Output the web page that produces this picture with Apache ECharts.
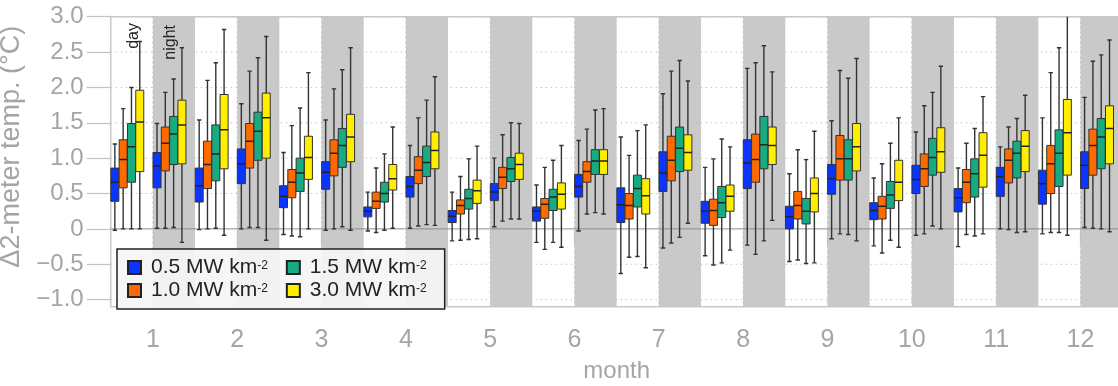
<!DOCTYPE html>
<html><head><meta charset="utf-8">
<script src="https://cdn.jsdelivr.net/npm/echarts@6/dist/echarts.min.js"></script>
<style>html,body{margin:0;padding:0;background:#fff}#c{width:1118px;height:386px}</style>
</head><body><div id="c"></div>
<script>
// ---- data ----
const months = ['1','2','3','4','5','6','7','8','9','10','11','12'];
const periods = ['day','night'];
const yTicks = [-1.0,-0.5,0,0.5,1.0,1.5,2.0,2.5,3.0];
const densities = ['0.5','1.0','1.5','3.0'];
const colors = ['#0a35ff','#ff6a00','#16ab80','#ffee00'];
// each entry: [lower whisker, Q1, median, Q3, upper whisker]; order m1 day, m1 night, m2 day, ...
const d05 = [
 [-0.02,0.39,0.66,0.86,1.20],[0.01,0.58,0.89,1.08,1.49],
 [-0.01,0.38,0.61,0.86,1.54],[0.00,0.64,0.92,1.13,1.77],
 [-0.08,0.30,0.46,0.61,1.08],[-0.02,0.56,0.80,0.95,1.54],
 [-0.03,0.17,0.25,0.31,0.52],[0.01,0.45,0.60,0.74,1.18],
 [-0.17,0.09,0.18,0.26,0.52],[0.03,0.40,0.52,0.64,1.00],
 [-0.19,0.11,0.25,0.31,0.62],[-0.03,0.45,0.60,0.77,1.25],
 [-0.63,0.09,0.34,0.58,1.30],[-0.27,0.53,0.79,1.09,1.91],
 [-0.38,0.08,0.25,0.39,0.87],[-0.23,0.57,0.93,1.26,2.27],
 [-0.46,0.00,0.17,0.32,0.78],[-0.14,0.49,0.71,0.91,1.53],
 [-0.24,0.13,0.26,0.37,0.72],[-0.09,0.50,0.70,0.90,1.37],
 [-0.25,0.24,0.44,0.57,0.86],[0.00,0.46,0.74,0.87,1.16],
 [-0.07,0.35,0.64,0.83,1.57],[0.02,0.57,0.90,1.09,1.86]
];
const d10 = [
 [0.00,0.58,0.98,1.26,1.70],[0.01,0.82,1.21,1.44,1.93],
 [0.00,0.57,0.91,1.24,2.10],[0.02,0.86,1.24,1.49,2.23],
 [-0.10,0.44,0.66,0.84,1.46],[0.00,0.75,1.07,1.26,1.98],
 [-0.05,0.29,0.39,0.52,0.86],[0.04,0.64,0.83,1.02,1.57],
 [-0.16,0.21,0.33,0.41,0.74],[0.11,0.57,0.73,0.87,1.33],
 [-0.29,0.15,0.35,0.43,0.87],[0.21,0.66,0.81,0.95,1.41],
 [-0.40,0.14,0.33,0.50,1.04],[-0.20,0.68,0.97,1.31,2.23],
 [-0.51,0.05,0.26,0.42,0.99],[-0.36,0.66,0.98,1.34,2.35],
 [-0.44,0.14,0.33,0.53,1.12],[-0.07,0.69,0.99,1.32,2.24],
 [-0.34,0.14,0.32,0.46,0.92],[-0.07,0.60,0.85,1.06,1.74],
 [-0.08,0.37,0.66,0.84,1.21],[-0.01,0.65,0.97,1.13,1.44],
 [-0.05,0.50,0.92,1.18,2.21],[0.01,0.76,1.18,1.41,2.37]
];
const d15 = [
 [0.00,0.66,1.16,1.49,2.00],[0.02,0.91,1.34,1.59,2.12],
 [0.01,0.68,1.06,1.47,2.35],[0.02,0.97,1.38,1.65,2.42],
 [-0.11,0.53,0.79,1.00,1.71],[0.03,0.87,1.18,1.42,2.25],
 [-0.02,0.38,0.50,0.66,1.06],[0.06,0.74,0.94,1.17,1.82],
 [-0.15,0.28,0.43,0.56,0.99],[0.14,0.67,0.85,1.01,1.50],
 [-0.19,0.26,0.45,0.56,0.97],[0.23,0.77,0.96,1.12,1.68],
 [-0.39,0.31,0.57,0.76,1.39],[-0.12,0.81,1.14,1.44,2.38],
 [-0.48,0.16,0.37,0.60,1.27],[-0.17,0.85,1.19,1.59,2.59],
 [-0.49,0.07,0.25,0.43,0.98],[-0.08,0.69,0.99,1.26,2.13],
 [-0.16,0.29,0.48,0.67,1.21],[0.04,0.76,1.01,1.28,1.93],
 [-0.10,0.45,0.78,0.99,1.42],[-0.05,0.72,1.07,1.24,1.56],
 [-0.05,0.60,1.07,1.40,2.56],[0.00,0.85,1.30,1.56,2.46]
];
const d30 = [
 [0.00,0.81,1.51,1.96,2.65],[-0.19,0.92,1.47,1.82,2.56],
 [-0.09,0.85,1.40,1.90,2.82],[-0.16,1.00,1.57,1.92,2.72],
 [0.00,0.70,1.01,1.31,2.21],[-0.02,0.95,1.30,1.62,2.56],
 [0.01,0.55,0.71,0.91,1.44],[0.05,0.85,1.11,1.37,2.15],
 [-0.14,0.36,0.54,0.69,1.17],[0.14,0.70,0.91,1.07,1.49],
 [-0.26,0.28,0.49,0.65,1.18],[0.21,0.77,0.96,1.12,1.70],
 [-0.55,0.21,0.47,0.71,1.47],[0.08,0.83,1.08,1.33,2.09],
 [-0.30,0.25,0.46,0.62,1.16],[0.12,0.91,1.18,1.44,2.22],
 [-0.48,0.24,0.50,0.72,1.38],[-0.17,0.82,1.16,1.49,2.41],
 [-0.26,0.40,0.66,0.97,1.57],[0.00,0.80,1.09,1.43,2.30],
 [-0.07,0.59,1.04,1.36,1.87],[-0.04,0.81,1.17,1.39,1.89],
 [-0.09,0.76,1.36,1.83,3.10],[-0.04,0.92,1.42,1.74,2.67]
];
const allData = [d05, d10, d15, d30];

// ---- chart ----
const chart = echarts.init(document.getElementById('c'));
const seriesName = d => d + ' MW km-2';
const nCols = months.length * periods.length;
const monthPos = months.map((m, i) => 2 * i + 1);

function bgRender(params, api) {
  const cs = params.coordSys;
  const ch = [];
  months.forEach((m, i) => {
    const x0 = api.coord([2 * i + 1, 0])[0];
    const x1 = api.coord([2 * i + 2, 0])[0];
    ch.push({type: 'rect', shape: {x: x0, y: cs.y, width: x1 - x0, height: cs.height},
      style: {fill: '#c9c9c9'}, silent: true});
  });
  yTicks.forEach(v => {
    if (v === 0) return;
    const y = api.coord([0, v])[1];
    ch.push({type: 'line', shape: {x1: cs.x, y1: y, x2: cs.x + cs.width, y2: y},
      style: {stroke: '#c4c4c4', lineWidth: 1, lineDash: [1.5, 3.5]}, silent: true});
  });
  monthPos.forEach(p => {
    const x = api.coord([p, 0])[0];
    ch.push({type: 'line', shape: {x1: x, y1: cs.y, x2: x, y2: cs.y + cs.height},
      style: {stroke: '#bdbdbd', lineWidth: 1, lineDash: [1.5, 3.5]}, silent: true});
  });
  const y0 = api.coord([0, 0])[1];
  ch.push({type: 'line', shape: {x1: cs.x, y1: y0, x2: cs.x + cs.width, y2: y0},
    style: {stroke: '#8c8c8c', lineWidth: 1}, silent: true});
  return {type: 'group', children: ch};
}

function boxRender(k) {
  return function (params, api) {
    const col = api.value(0);
    const xc = api.coord([col + (k + 0.5) * 0.197, 0])[0];
    const unit = api.size([1, 0])[0];
    const w = unit * 0.19;
    const cap = 2.2;
    const y = i => api.coord([0, api.value(i)])[1];
    const lo = y(1), q1 = y(2), md = y(3), q3 = y(4), hi = y(5);
    const lineS = {stroke: '#333', lineWidth: 1.4};
    return {type: 'group', children: [
      {type: 'line', shape: {x1: xc, y1: hi, x2: xc, y2: q3}, style: lineS},
      {type: 'line', shape: {x1: xc, y1: q1, x2: xc, y2: lo}, style: lineS},
      {type: 'line', shape: {x1: xc - cap, y1: hi, x2: xc + cap, y2: hi}, style: lineS},
      {type: 'line', shape: {x1: xc - cap, y1: lo, x2: xc + cap, y2: lo}, style: lineS},
      {type: 'rect', shape: {x: xc - w / 2, y: q3, width: w, height: q1 - q3},
        style: {fill: colors[k], stroke: '#333', lineWidth: 1}},
      {type: 'line', shape: {x1: xc - w / 2, y1: md, x2: xc + w / 2, y2: md},
        style: {stroke: '#222', lineWidth: 1.5}}
    ]};
  };
}

const series = [{
  type: 'custom', name: 'bg', z: 0, silent: true, clip: true,
  renderItem: bgRender, data: [[0, 0]], encode: {x: 0, y: 1}
}];
allData.forEach((arr, k) => {
  series.push({
    type: 'custom', name: seriesName(densities[k]), z: 2, clip: true,
    itemStyle: {color: colors[k], borderColor: '#222', borderWidth: 1},
    renderItem: boxRender(k),
    encode: {x: 0, y: [1, 2, 3, 4, 5]},
    data: arr.map((d, i) => [i, d[0], d[1], d[2], d[3], d[4]])
  });
});

const fmtY = v => v === 0 ? '0' : (v < 0 ? '\u2212' + Math.abs(v).toFixed(1) : v.toFixed(1));

chart.setOption({
  animation: false,
  backgroundColor: '#fff',
  textStyle: {fontFamily: 'Liberation Sans, Arial, sans-serif'},
  grid: {left: 110.7, top: 16.7, bottom: 79.3, right: -4.6, show: true,
    containLabel: false, outerBoundsMode: 'none',
    borderColor: '#c8c8c8', borderWidth: 1.5, backgroundColor: '#fff'},
  xAxis: {
    type: 'value', min: 0, max: nCols,
    name: 'month', nameLocation: 'middle', nameGap: 53,
    nameTextStyle: {color: '#a5a5a5', fontSize: 24, verticalAlign: 'top'},
    axisLine: {show: false},
    splitLine: {show: false},
    axisTick: {show: true, customValues: monthPos, length: 16.5, lineStyle: {color: '#c2c2c2', width: 1.2}},
    axisLabel: {customValues: monthPos, formatter: v => months[(v - 1) / 2],
      color: '#a5a5a5', fontSize: 25, margin: 21}
  },
  yAxis: {
    type: 'value', min: -1.1, max: 3.0,
    name: '\u03942-meter temp. (\u00b0C)', nameLocation: 'middle', nameGap: 69,
    nameTextStyle: {color: '#a5a5a5', fontSize: 27, padding: [0, 0, 0, 30]},
    axisLine: {show: false},
    splitLine: {show: false},
    axisTick: {show: true, customValues: yTicks, length: 24, lineStyle: {color: '#c2c2c2', width: 1.2}},
    axisLabel: {customValues: yTicks, formatter: fmtY, color: '#a5a5a5', fontSize: 24, margin: 27}
  },
  legend: {
    left: 117, top: 249, orient: 'horizontal', width: 340,
    itemWidth: 13, itemHeight: 13, itemGap: 2,
    padding: [8, 2, 8, 10],
    backgroundColor: 'rgba(245,245,245,0.93)', borderColor: '#222', borderWidth: 1.5, borderRadius: 0,
    icon: 'rect',
    data: [seriesName('0.5'), seriesName('1.5'), seriesName('1.0'), seriesName('3.0')],
    formatter: n => '{t|' + n.replace(/-2$/, '') + '}{s|-2}{g|}',
    textStyle: {padding: [0, 0, 0, 5], color: '#222',
      rich: {t: {fontSize: 21, color: '#222', lineHeight: 16},
             s: {fontSize: 12, color: '#222', verticalAlign: 'top', lineHeight: 12},
             g: {width: 16, lineHeight: 12}}}
  },
  graphic: [
    {type: 'text', x: 126, y: 23, rotation: Math.PI / 2, z: 10,
      style: {text: periods[0], fontSize: 16, fill: '#222', align: 'right', verticalAlign: 'top',
        fontFamily: 'Liberation Sans, Arial, sans-serif'}},
    {type: 'text', x: 163, y: 25, rotation: Math.PI / 2, z: 10,
      style: {text: periods[1], fontSize: 16, fill: '#222', align: 'right', verticalAlign: 'top',
        fontFamily: 'Liberation Sans, Arial, sans-serif'}}
  ],
  series: series
});
</script></body></html>
